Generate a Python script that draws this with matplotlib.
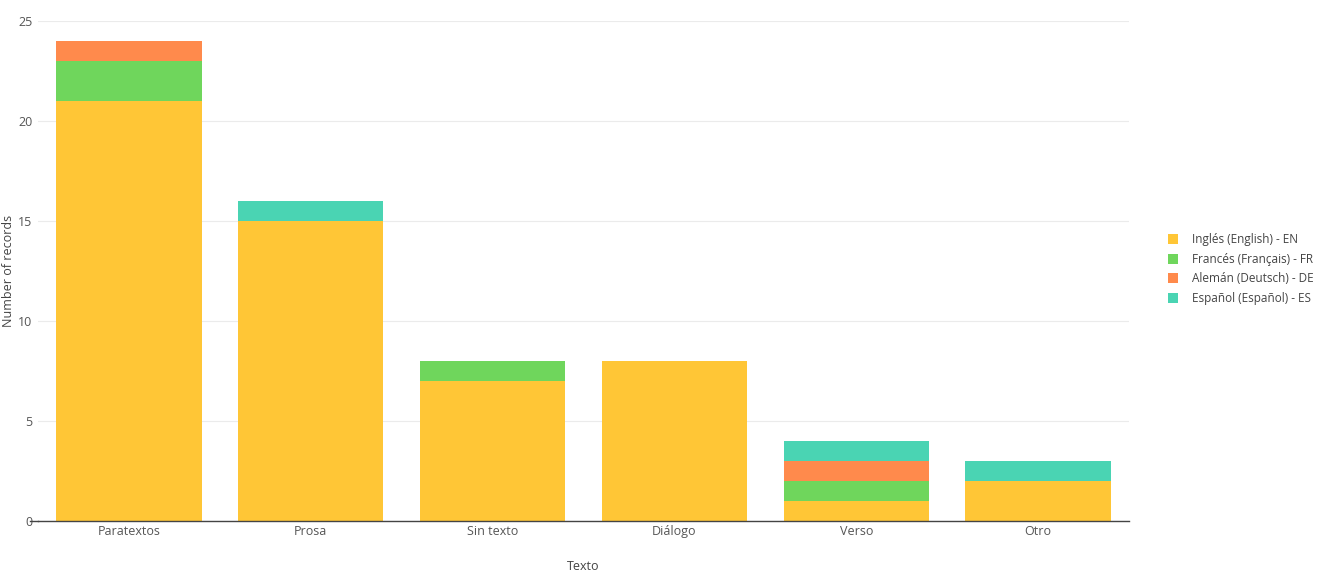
import matplotlib
matplotlib.use("Agg")
import matplotlib.pyplot as plt
from matplotlib.patches import Patch
import numpy as np

plt.rcParams['font.family'] = ['Open Sans', 'DejaVu Sans']

categories = ["Paratextos", "Prosa", "Sin texto", "Diálogo", "Verso", "Otro"]
series_names = ["Inglés (English) - EN", "Francés (Français) - FR",
                "Alemán (Deutsch) - DE", "Español (Español) - ES"]
en = [21, 15, 7, 8, 1, 2]
fr = [2, 0, 1, 0, 1, 0]
de = [1, 0, 0, 0, 1, 0]
es = [0, 1, 0, 0, 1, 1]
colors = ["#FFC636", "#6FD65C", "#FF8A4C", "#4AD4B3"]

fig = plt.figure(figsize=(13.17, 5.77), dpi=100)
ax = fig.add_axes([38/1317, 1-521/577, (1129-38)/1317, 500/577])

x = np.arange(len(categories))
bottom = np.zeros(len(categories))
for vals, name, c in zip([en, fr, de, es], series_names, colors):
    v = np.array(vals, dtype=float)
    ax.bar(x, v, 0.8, bottom=bottom, color=c, label=name, zorder=2)
    bottom += v

ax.set_xlim(-0.5, len(categories) - 0.5)
ax.set_ylim(0, 25)
ax.set_yticks([0, 5, 10, 15, 20, 25])
ax.set_xticks(x)
ax.set_xticklabels(categories)
ax.grid(axis='y', color='#EBEBEB', linewidth=0.8, zorder=0)
for s in ['top', 'right', 'left']:
    ax.spines[s].set_visible(False)
ax.spines['bottom'].set_color('#444444')
ax.spines['bottom'].set_linewidth(1)
ax.plot([-8/1091, 0], [0, 0], transform=ax.transAxes, color='#444444',
        linewidth=1, clip_on=False)
ax.tick_params(axis='y', length=0, labelsize=9, labelcolor='#555555', pad=4)
ax.tick_params(axis='x', length=0, labelsize=9, labelcolor='#555555', pad=3)
ax.set_ylabel("Number of records", fontsize=9, color='#444444')
ax.yaxis.set_label_coords(-29/1091, 0.5)
ax.set_xlabel("Texto", fontsize=9, color='#444444')
ax.xaxis.set_label_coords(0.5, -45/500)
ax.xaxis.label.set_va('center')
ax.yaxis.label.set_va('center')

handles = [Patch(facecolor=c, label=n) for c, n in zip(colors, series_names)]
leg = fig.legend(handles=handles, loc='center left', bbox_to_anchor=(1157/1317, 1-269/577),
                 frameon=False, fontsize=8.5, handlelength=0.9, handleheight=0.9,
                 handletextpad=1.2, labelspacing=0.55, labelcolor='#444444')

fig.savefig("out.png", dpi=100)
